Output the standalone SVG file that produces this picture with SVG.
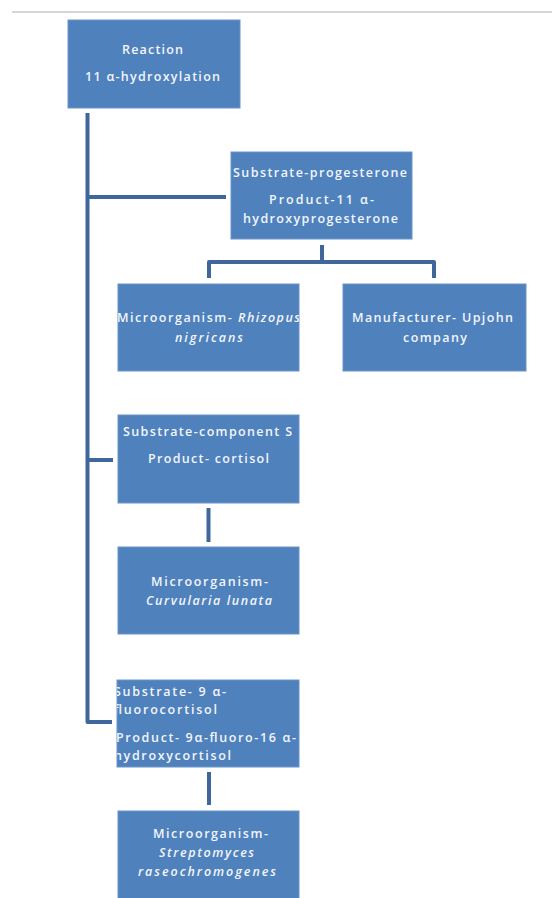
<svg xmlns="http://www.w3.org/2000/svg" width="552" height="898" viewBox="0 0 552 898">
<style>
.box{fill:#4F81BD;stroke:#6A93C8;stroke-width:1}
.t{font-family:"Open Sans","Liberation Sans",sans-serif;font-size:12.5px;font-weight:600;fill:#F2F5FA;text-anchor:middle}
.l{text-anchor:start}
.i{font-style:italic}
.c{fill:none;stroke:#3F679C;stroke-width:4;stroke-linecap:butt;stroke-linejoin:round}
</style>
<defs>
<clipPath id="cpR"><rect x="118" y="284" width="181" height="87"/></clipPath>
<clipPath id="cpF"><rect x="117" y="680" width="182" height="87"/></clipPath>
</defs>
<line x1="12" y1="12" x2="552" y2="12" stroke="#C8C8C8" stroke-width="1.5"/>
<g id="connectors">
<path class="c" d="M87.5,113 V722 H112"/>
<path class="c" d="M87.5,197 H226"/>
<path class="c" d="M87.5,460 H113"/>
<path class="c" d="M322,245 V262 M209,278 V262 H434 V278"/>
<path class="c" d="M208.5,508 V542"/>
<path class="c" d="M209,772 V805"/>
</g>
<g id="n-reaction">
<rect class="box" x="68" y="20" width="172" height="88"/>
<text class="t" x="152.5" y="54" textLength="61" lengthAdjust="spacing">Reaction</text>
<text class="t" x="152.5" y="81" textLength="135" lengthAdjust="spacing">11 α-hydroxylation</text>
</g>
<g id="n-progesterone">
<rect class="box" x="231" y="152" width="181" height="87"/>
<text class="t" x="320" y="177" textLength="174" lengthAdjust="spacing">Substrate-progesterone</text>
<text class="t" x="321.5" y="204" textLength="105" lengthAdjust="spacing">Product-11 α-</text>
<text class="t" x="320.5" y="223" textLength="155" lengthAdjust="spacing">hydroxyprogesterone</text>
</g>
<g id="n-rhizopus">
<rect class="box" x="118" y="284" width="181" height="87"/>
<g clip-path="url(#cpR)">
<text class="t" x="208.5" y="322" textLength="183" lengthAdjust="spacing">Microorganism- <tspan class="i">Rhizopus</tspan></text>
</g>
<text class="t i" x="209" y="342" textLength="68" lengthAdjust="spacing">nigricans</text>
</g>
<g id="n-upjohn">
<rect class="box" x="343" y="284" width="183" height="87"/>
<text class="t" x="432.5" y="322" textLength="161" lengthAdjust="spacing">Manufacturer- Upjohn</text>
<text class="t" x="435" y="342" textLength="64" lengthAdjust="spacing">company</text>
</g>
<g id="n-componentS">
<rect class="box" x="118" y="415" width="181" height="88"/>
<text class="t" x="207.5" y="436" textLength="169" lengthAdjust="spacing">Substrate-component S</text>
<text class="t" x="208.5" y="463" textLength="121" lengthAdjust="spacing">Product- cortisol</text>
</g>
<g id="n-curvularia">
<rect class="box" x="118" y="547" width="181" height="87"/>
<text class="t" x="209.5" y="586" textLength="117" lengthAdjust="spacing">Microorganism-</text>
<text class="t i" x="209" y="605" textLength="126" lengthAdjust="spacing">Curvularia lunata</text>
</g>
<g id="n-fluorocortisol">
<rect class="box" x="117" y="680" width="182" height="87"/>
<g clip-path="url(#cpF)">
<text class="t l" x="114" y="696" textLength="112" lengthAdjust="spacing">Substrate- 9 α-</text>
<text class="t l" x="114" y="714" textLength="103" lengthAdjust="spacing">fluorocortisol</text>
<text class="t l" x="116" y="742" textLength="180" lengthAdjust="spacing">Product- 9α-fluoro-16 α-</text>
<text class="t l" x="114" y="760" textLength="117" lengthAdjust="spacing">hydroxycortisol</text>
</g>
</g>
<g id="n-streptomyces">
<rect class="box" x="118" y="811" width="181" height="88"/>
<text class="t" x="210.5" y="838" textLength="115" lengthAdjust="spacing">Microorganism-</text>
<text class="t i" x="206.5" y="857" textLength="95" lengthAdjust="spacing">Streptomyces</text>
<text class="t i" x="207" y="876" textLength="138" lengthAdjust="spacing">raseochromogenes</text>
</g>
</svg>
